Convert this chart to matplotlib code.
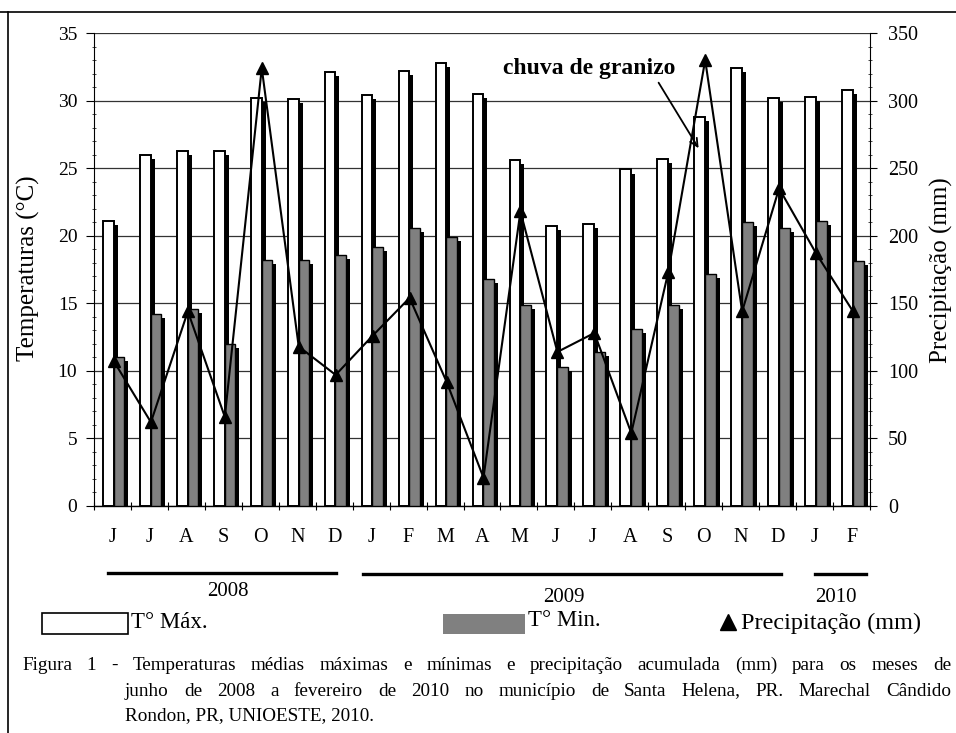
import matplotlib
matplotlib.use("Agg")
import matplotlib.pyplot as plt
from matplotlib.lines import Line2D
from matplotlib.patches import Rectangle
from matplotlib.ticker import MultipleLocator, FixedLocator
import numpy as np

# monthly data, jun/2008 .. fev/2010
months = ["J", "J", "A", "S", "O", "N", "D", "J", "F", "M", "A",
          "M", "J", "J", "A", "S", "O", "N", "D", "J", "F"]
t_max = [21.1, 26.0, 26.3, 26.3, 30.2, 30.1, 32.1, 30.4, 32.2, 32.8, 30.5,
         25.6, 20.7, 20.9, 24.9, 25.7, 28.8, 32.4, 30.2, 30.3, 30.8]
t_min = [11.0, 14.2, 14.6, 12.0, 18.2, 18.2, 18.6, 19.2, 20.6, 19.9, 16.8,
         14.9, 10.3, 11.4, 13.1, 14.9, 17.2, 21.0, 20.6, 21.1, 18.1]
precip = [107, 62, 144, 66, 324, 118, 97, 126, 154, 92, 21,
          218, 114, 128, 54, 173, 330, 144, 235, 187, 144]
years = ["2008", "2009", "2010"]

caption = [
    "Figura 1 - Temperaturas médias máximas e mínimas e precipitação acumulada (mm) para os meses de",
    "junho de 2008 a fevereiro de 2010 no município de Santa Helena, PR. Marechal Cândido",
    "Rondon, PR, UNIOESTE, 2010.",
]

W, H = 956, 733
plt.rcParams["font.family"] = ["Liberation Serif", "DejaVu Serif"]
plt.rcParams["font.size"] = 12


def fx(px):
    return px / W


def fy(py):
    return 1 - py / H


fig = plt.figure(figsize=(W / 100, H / 100), dpi=100)
ax = fig.add_axes([fx(94), fy(506), fx(870) - fx(94), fy(33) - fy(506)])

x = np.arange(len(months))
w = 0.29
dx, dy = 0.108, 0.3
grey = "#808080"

# shadows first, then the bars themselves
ax.bar(x - 0.11 + dx, np.array(t_max) - dy, width=w, color="black", zorder=2)
ax.bar(x - 0.11, t_max, width=w, color="white", edgecolor="black", linewidth=1.4, zorder=3)
ax.bar(x + 0.18 + dx, np.array(t_min) - dy, width=w, color="black", zorder=4)
ax.bar(x + 0.18, t_min, width=w, color=grey, edgecolor="black", linewidth=1.0, zorder=5)

ax.set_xlim(-0.5, len(months) - 0.5)
ax.set_ylim(0, 35)
ax.yaxis.set_major_locator(MultipleLocator(5))
ax.yaxis.set_minor_locator(MultipleLocator(1))
ax.grid(axis="y", color="#333333", linewidth=0.9, zorder=0)
ax.set_axisbelow(True)
ax.set_xticks(x)
ax.set_xticklabels(months)
ax.xaxis.set_minor_locator(FixedLocator(np.arange(-0.5, len(months), 1.0)))
ax.tick_params(axis="x", which="major", length=0, pad=16, labelsize=14.5)
ax.tick_params(axis="x", which="minor", direction="inout", length=6, width=0.8)
ax.tick_params(axis="y", which="major", direction="out", length=6, width=0.8, pad=6, labelsize=14)
ax.tick_params(axis="y", which="minor", direction="inout", length=3, width=0.5)
for s in ["top", "right"]:
    ax.spines[s].set_visible(False)
ax.spines["left"].set_linewidth(0.8)
ax.spines["bottom"].set_linewidth(1.0)
fig.text(fx(28), fy(268), "Temperaturas (°C)", rotation=90, ha="center", va="center", fontsize=18)

ax2 = ax.twinx()
ax2.plot(x + 0.04, precip, color="black", linewidth=1.5, marker="^", markersize=9, zorder=6)
ax2.set_ylim(0, 350)
ax2.yaxis.set_major_locator(MultipleLocator(50))
ax2.yaxis.set_minor_locator(MultipleLocator(10))
ax2.tick_params(axis="y", which="major", direction="out", length=5, width=0.8, pad=8, labelsize=14.5)
ax2.tick_params(axis="y", which="minor", direction="inout", length=3, width=0.5)
for s in ["top", "left", "bottom"]:
    ax2.spines[s].set_visible(False)
ax2.spines["right"].set_linewidth(0.8)
fig.text(fx(941), fy(270), "Precipitação (mm)", rotation=90, ha="center", va="center", fontsize=18)

# hail annotation
ax.text(10.57, 32.4, "chuva de granizo", fontsize=17, fontweight="bold", ha="left", va="center", zorder=8)
ax.annotate("", xy=(15.9, 26.3), xytext=(14.74, 31.5),
            arrowprops=dict(arrowstyle="->", color="black", lw=1.3, mutation_scale=14), zorder=8)

# year bars under the month labels
year_spans = [(108, 336, 573), (363, 781, 574), (815, 866, 574)]
year_pos = [(228, 592), (564, 597), (836, 597)]
for (x0, x1, yy), (tx, ty), label in zip(year_spans, year_pos, years):
    fig.add_artist(Line2D([fx(x0), fx(x1)], [fy(yy), fy(yy)], color="black", linewidth=2.4))
    fig.text(fx(tx), fy(ty), label, ha="center", va="center", fontsize=15)

# legend drawn by hand
fig.add_artist(Rectangle((fx(42), fy(634)), fx(128) - fx(42), fy(613) - fy(634),
                         facecolor="white", edgecolor="black", linewidth=1.2, transform=fig.transFigure))
fig.text(fx(131), fy(623), "T° Máx.", ha="left", va="center", fontsize=16.5)
fig.add_artist(Rectangle((fx(443), fy(634)), fx(525) - fx(443), fy(614) - fy(634),
                         facecolor=grey, edgecolor="none", transform=fig.transFigure))
fig.text(fx(528), fy(621), "T° Min.", ha="left", va="center", fontsize=16.5)
fig.add_artist(Line2D([fx(728)], [fy(622)], marker="^", markersize=11, color="black", linestyle="none"))
fig.text(fx(741), fy(623), "Precipitação (mm)", ha="left", va="center", fontsize=17.5)


def justify(line, x0, x1, y, size):
    # spread the words so the line fills x0..x1, like the justified caption
    words = line.split(" ")
    texts = [fig.text(0, fy(y), wd, ha="left", va="center", fontsize=size) for wd in words]
    r = fig.canvas.get_renderer()
    widths = [t.get_window_extent(r).width for t in texts]
    gap = (x1 - x0 - sum(widths)) / (len(words) - 1)
    pos = x0
    for t, wd in zip(texts, widths):
        t.set_x(fx(pos))
        pos += wd + gap


justify(caption[0], 22, 951, 665, 13.8)
justify(caption[1], 125, 951, 691, 13.8)
fig.text(fx(125), fy(716), caption[2], ha="left", va="center", fontsize=13.8)

# frame around the figure
fig.add_artist(Line2D([0, 1], [fy(12), fy(12)], color="black", linewidth=1.2))
fig.add_artist(Line2D([fx(8), fx(8)], [fy(12), 0], color="black", linewidth=1.2))

fig.savefig("out.png", dpi=100)
